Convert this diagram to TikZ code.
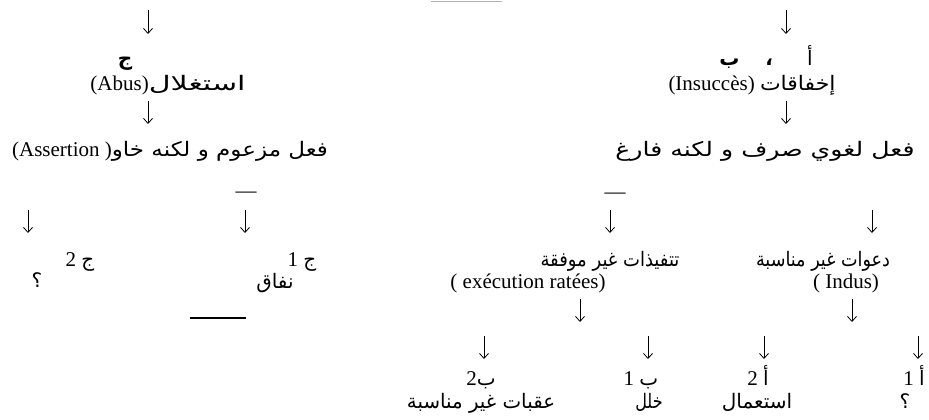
\documentclass[tikz,border=0pt]{standalone}
\usepackage{graphicx}
\usepackage{fontspec}
\setmainfont{Liberation Serif}
\newfontfamily\arabicfont[Script=Arabic]{DejaVu Sans}
\TeXXeTstate=1
\usetikzlibrary{arrows.meta}
\newcommand{\artxt}[2][1]{\scalebox{#1}[1]{\arabicfont\fontsize{20}{24}\selectfont\beginR #2\endR}}
\newcommand{\artxtb}[1]{{\arabicfont\bfseries\fontsize{20}{24}\selectfont\beginR #1\endR}}
\begin{document}
\begin{tikzpicture}[x=1pt,y=-1pt,
  every node/.style={inner sep=0pt,outer sep=0pt,anchor=base,font=\fontsize{21}{25}\selectfont},
  arr/.style={line width=0.8pt,-{Straight Barb[length=5pt,width=9pt]}},
  rule/.style={line width=1.3pt}]
\useasboundingbox (0,0) rectangle (929,420);
% top faint line
\coordinate (t1) at (431,1); \coordinate (t2) at (502,1);
\draw[gray!60,line width=0.8pt] (t1) -- (t2);

% ---------------- left branch
\coordinate (la1) at (148,10); \coordinate (lb1) at (148,34);
\draw[arr] (la1) -- (lb1);
\node (jim) at (125,66) {\artxtb{ج}};
\node (abus) at (168,91) {(Abus)\artxt[1.5]{استغلال}};
\coordinate (la2) at (148,101); \coordinate (lb2) at (148,124);
\draw[arr] (la2) -- (lb2);
\node (assert) at (170,156) {(Assertion )\artxt[1.15]{فعل مزعوم و لكنه خاو}};
\node (dashL) at (246,197) {—};
\coordinate (la3) at (28,210); \coordinate (lb3) at (28,233);
\draw[arr] (la3) -- (lb3);
\coordinate (la4) at (245,210); \coordinate (lb4) at (245,233);
\draw[arr] (la4) -- (lb4);
\node (j2) at (80,266) {2 \artxt{ج}};
\node (q1) at (37,287) {\artxt{؟}};
\node (j1) at (302,266) {1 \artxt{ج}};
\node (nifaq) at (275,288) {\artxt{نفاق}};
\coordinate (u1) at (190,318); \coordinate (u2) at (246,318);
\draw[rule] (u1) -- (u2);

% ---------------- right branch
\coordinate (ra1) at (786,10); \coordinate (rb1) at (786,34);
\draw[arr] (ra1) -- (rb1);
\node (ab) at (766,66) {\artxtb{ب}\hspace{26pt}\artxtb{،}\hspace{34pt}\artxt{أ}};
\node (insucc) at (752,91) {(Insuccès) \artxt[1.1]{إخفاقات}};
\coordinate (ra2) at (786,101); \coordinate (rb2) at (786,124);
\draw[arr] (ra2) -- (rb2);
\node (lugh) at (765,156) {\artxt[1.26]{فعل لغوي صرف و لكنه فارغ}};
\node (dashR) at (615,198) {—};
\coordinate (ra3) at (610,210); \coordinate (rb3) at (610,233);
\draw[arr] (ra3) -- (rb3);
\coordinate (ra4) at (872,210); \coordinate (rb4) at (872,233);
\draw[arr] (ra4) -- (rb4);
\node (tanf) at (610,266) {\artxt[0.9]{تتفيذات غير موفقة}};
\node (exec) at (528,288) {( exécution ratées)};
\node (daw) at (823,266) {\artxt[0.88]{دعوات غير مناسبة}};
\node (indus) at (846,288) {( Indus)};
\coordinate (ra5) at (580,299); \coordinate (rb5) at (580,322);
\draw[arr] (ra5) -- (rb5);
\coordinate (ra6) at (852,299); \coordinate (rb6) at (852,322);
\draw[arr] (ra6) -- (rb6);
\coordinate (ra7) at (484,336); \coordinate (rb7) at (484,359);
\draw[arr] (ra7) -- (rb7);
\coordinate (ra8) at (648,336); \coordinate (rb8) at (648,359);
\draw[arr] (ra8) -- (rb8);
\coordinate (ra9) at (764,336); \coordinate (rb9) at (764,359);
\draw[arr] (ra9) -- (rb9);
\coordinate (ra10) at (918,336); \coordinate (rb10) at (918,359);
\draw[arr] (ra10) -- (rb10);
\node (b2) at (481,385) {2\artxt{ب}};
\node (b1) at (641,385) {1 \artxt{ب}};
\node (a2) at (758,385) {2 \artxt{أ}};
\node (a1) at (914,385) {1 \artxt{أ}};
\node (uqub) at (481,408) {\artxt[0.99]{عقبات غير مناسبة}};
\node (khalal) at (649,408) {\artxt[0.8]{خلل}};
\node (istimal) at (757,408) {\artxt{استعمال}};
\node (q2) at (905,408) {\artxt{؟}};
\end{tikzpicture}
\end{document}
